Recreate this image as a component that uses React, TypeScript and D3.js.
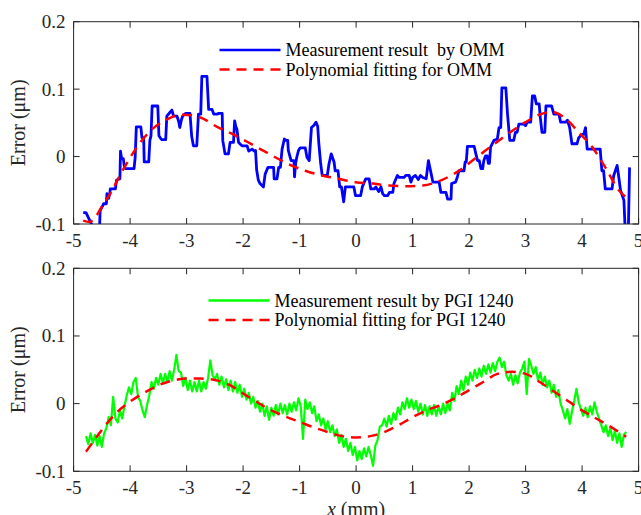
import React from 'react';
import * as d3 from 'd3';

// axes
const xTicks = [-5, -4, -3, -2, -1, 0, 1, 2, 3, 4, 5];
const yTicks = [-0.1, 0, 0.1, 0.2];
const yTickLabels = ['-0.1', '0', '0.1', '0.2'];

const ommLegend = ['Measurement result  by OMM', 'Polynomial fitting for OMM'];
const pgiLegend = ['Measurement result by PGI 1240', 'Polynomial fitting for PGI 1240'];

// OMM measurement, [x (mm), error (nm)]
const ommMeasured: [number, number][] = [
  [-4.83, -83], [-4.78, -83], [-4.73, -92], [-4.66, -104], [-4.6, -108], [-4.54, -104], [-4.53, -80],
  [-4.48, -72], [-4.47, -70], [-4.42, -70], [-4.41, -55], [-4.38, -62], [-4.36, -55], [-4.35, -48],
  [-4.26, -48], [-4.24, -35], [-4.18, -33], [-4.17, 8], [-4.15, -3], [-4.12, -3], [-4.1, -16],
  [-4.08, -18], [-3.93, -18], [-3.91, -1], [-3.89, 44], [-3.81, 44], [-3.79, 28], [-3.76, 28],
  [-3.75, -8], [-3.67, -8], [-3.65, 24], [-3.63, 31], [-3.61, 75], [-3.51, 75], [-3.49, 31],
  [-3.46, 27], [-3.44, 25], [-3.37, 25], [-3.35, 60], [-3.3, 65], [-3.26, 69], [-3.23, 60],
  [-3.17, 60], [-3.14, 52], [-3.12, 43], [-3.09, 55], [-3.07, 60], [-3.02, 64], [-2.94, 64],
  [-2.91, 30], [-2.88, 16], [-2.82, 16], [-2.79, 63], [-2.75, 63], [-2.73, 119], [-2.64, 119],
  [-2.61, 70], [-2.55, 70], [-2.52, 63], [-2.46, 63], [-2.43, 64], [-2.37, 64], [-2.36, 24],
  [-2.32, 4], [-2.26, 4], [-2.23, 21], [-2.17, 21], [-2.15, 53], [-2.13, 45], [-2.11, 41],
  [-2.08, 21], [-2.02, 16], [-1.93, 16], [-1.9, 8], [-1.84, 11], [-1.8, 8], [-1.78, 9],
  [-1.76, -20], [-1.73, -35], [-1.7, -40], [-1.64, -45], [-1.61, -26], [-1.56, -16], [-1.46, -16],
  [-1.45, -33], [-1.4, -33], [-1.37, -16], [-1.34, -16], [-1.31, 11], [-1.27, 26], [-1.24, 24],
  [-1.21, 24], [-1.2, 9], [-1.17, 0], [-1.15, -6], [-1.1, -6], [-1.09, -30], [-1.07, -10],
  [-1.05, -1], [-1.02, 9], [-0.99, 13], [-0.9, 13], [-0.87, -1], [-0.83, -6], [-0.79, 43],
  [-0.75, 46], [-0.71, 51], [-0.68, 45], [-0.66, 20], [-0.63, -8], [-0.6, -28], [-0.51, -28],
  [-0.48, -11], [-0.44, 4], [-0.39, -8], [-0.37, -21], [-0.32, -21], [-0.29, -45], [-0.26, -45],
  [-0.22, -67], [-0.19, -45], [-0.04, -45], [-0.01, -58], [0.08, -58], [0.11, -45], [0.17, -33],
  [0.23, -33], [0.26, -48], [0.32, -48], [0.35, -45], [0.4, -52], [0.44, -45], [0.47, -55],
  [0.5, -58], [0.56, -58], [0.59, -53], [0.65, -53], [0.67, -40], [0.73, -28], [0.76, -31],
  [0.85, -31], [0.88, -28], [0.94, -28], [0.97, -38], [1.0, -31], [1.05, -28], [1.1, -34],
  [1.14, -28], [1.18, -31], [1.24, -33], [1.28, -6], [1.33, -26], [1.36, -38], [1.47, -38],
  [1.5, -53], [1.59, -53], [1.62, -63], [1.68, -63], [1.69, -40], [1.76, -38], [1.79, -31],
  [1.82, -21], [1.91, -21], [1.93, -8], [1.95, -8], [1.97, 15], [2.09, 15], [2.12, 4],
  [2.15, -6], [2.18, -6], [2.21, -18], [2.24, -18], [2.26, -6], [2.29, 1], [2.32, 1],
  [2.34, -10], [2.36, -10], [2.38, 14], [2.44, 24], [2.5, 26], [2.53, 43], [2.56, 43],
  [2.58, 102], [2.65, 102], [2.68, 63], [2.72, 24], [2.79, 24], [2.82, 36], [2.85, 36],
  [2.88, 48], [2.97, 48], [3.0, 46], [3.03, 51], [3.09, 51], [3.12, 90], [3.16, 90],
  [3.19, 78], [3.24, 78], [3.26, 58], [3.29, 36], [3.34, 36], [3.36, 75], [3.46, 75],
  [3.5, 63], [3.59, 63], [3.62, 51], [3.71, 51], [3.74, 54], [3.78, 43], [3.82, 19],
  [3.91, 19], [3.94, 28], [4.0, 33], [4.03, 33], [4.06, 43], [4.09, 11], [4.32, 11],
  [4.35, -21], [4.38, -21], [4.41, -48], [4.53, -48], [4.56, -28], [4.62, -13], [4.65, -31],
  [4.68, -50], [4.74, -65], [4.76, -104], [4.82, -104], [4.84, -16],
];

// polynomial fit for OMM
const ommFit: [number, number][] = [
  [-4.83, -95], [-4.72, -97], [-4.6, -88], [-4.47, -70], [-4.35, -55], [-4.17, -26], [-4.03, -6],
  [-3.88, 14], [-3.7, 33], [-3.53, 46], [-3.35, 55], [-3.11, 62], [-2.88, 61], [-2.7, 56],
  [-2.46, 44], [-2.23, 35], [-1.93, 22], [-1.67, 10], [-1.43, -1], [-1.2, -11], [-0.9, -21],
  [-0.6, -28], [-0.31, -33], [-0.01, -38], [0.29, -40], [0.58, -43], [0.88, -44], [1.18, -43],
  [1.42, -38], [1.66, -29], [1.82, -21], [2.06, -6], [2.29, 9], [2.53, 24], [2.76, 38],
  [3.0, 51], [3.24, 62], [3.47, 66], [3.71, 56], [3.94, 36], [4.18, 14], [4.41, -16],
  [4.65, -50], [4.82, -63],
];

// PGI 1240 measurement: sampled every 0.04 mm from -4.78 mm, error (nm)
const pgiStart = -4.78;
const pgiStep = 0.04;
const pgiMeasured = [
  -48, -60, -44, -58, -46, -62, -48, -64, -44, -36, -20, -32, 10, -22, -28, -10, -22, -4, 12, 24,
  14, 32, 38, 10, 4, -10, -20, -2, 12, 32, 22, 38, 28, 44, 30, 44, 32, 48, 34, 50,
  72, 48, 46, 26, 38, 20, 34, 18, 32, 18, 34, 18, 32, 22, 38, 64, 42, 36, 44, 28,
  40, 24, 36, 20, 34, 18, 32, 16, 28, 10, 22, 6, 16, 0, 10, -6, 4, -12, 0, -18,
  -4, -24, -6, -18, -2, -16, 0, -14, -2, -16, 0, -12, 2, -10, 8, -4, -52, 6, -8, 2,
  -14, -4, -26, -16, -32, -22, -38, -26, -42, -32, -48, -38, -58, -46, -64, -52, -70, -58, -76, -64,
  -84, -70, -82, -66, -78, -64, -76, -92, -62, -54, -34, -32, -22, -34, -18, -30, -14, -24, -6, -16,
  2, -8, 8, -6, 6, -8, 4, -12, 0, -16, -2, -18, -4, -16, -2, -18, -4, -16, 0, -14,
  0, -10, 16, 4, 26, 14, 34, 20, 40, 28, 46, 34, 50, 38, 52, 40, 56, 44, 58, 46,
  60, 48, 62, 68, 54, 62, 42, 34, 44, 28, 42, 30, 46, 52, 62, 14, 66, 56, 44, 54,
  34, 46, 28, 40, 24, 34, 16, 28, 10, 20, 0, -10, -22, -8, -30, -12, 4, 22, 2, -8,
  -18, -6, -20, -4, -16, 2, -12, -22, -32, -42, -32, -48, -36, -54, -40, -58, -44, -64, -46, -42,
];

// polynomial fit for PGI 1240
const pgiFit: [number, number][] = [
  [-4.78, -71], [-4.5, -39], [-4.25, -14], [-4.0, 3], [-3.75, 16], [-3.5, 27], [-3.25, 34],
  [-3.0, 37], [-2.75, 37], [-2.5, 35], [-2.25, 28], [-2.0, 15], [-1.75, 2], [-1.5, -10],
  [-1.25, -19], [-1.0, -27], [-0.75, -35], [-0.5, -42], [-0.25, -48], [0, -50], [0.25, -48],
  [0.5, -42], [0.75, -32], [1.0, -20], [1.25, -10], [1.5, -2], [1.75, 8], [2.0, 20],
  [2.25, 32], [2.5, 44], [2.75, 47], [3.0, 44], [3.25, 32], [3.5, 18], [3.75, 4],
  [4.0, -10], [4.25, -22], [4.5, -34], [4.78, -49],
];

const W = 641;
const H = 515;
const FONT = '"Liberation Serif", "Times New Roman", serif';
const AXIS = '#262626';

const x = d3.scaleLinear().domain([-5, 5]).range([73.6, 638.6]);

type PanelProps = {
  id: string;
  top: number;
  bottom: number;
  measured: [number, number][];
  fit: [number, number][];
  color: string;
  lineWidth: number;
  legend: string[];
  legendX: number;
  legendY: number;
};

function Panel(p: PanelProps) {
  const y = d3.scaleLinear().domain([-0.1, 0.2]).range([p.bottom, p.top]);
  const line = d3
    .line<[number, number]>()
    .x((d) => x(d[0]))
    .y((d) => y(d[1] / 1000));
  const smooth = d3
    .line<[number, number]>()
    .x((d) => x(d[0]))
    .y((d) => y(d[1] / 1000))
    .curve(d3.curveMonotoneX);
  const [x0, x1] = x.range();
  const tl = 6;
  const midY = (p.top + p.bottom) / 2;
  const lx0 = p.legendX;
  const lx1 = p.legendX + 61;
  return (
    <g>
      <defs>
        <clipPath id={p.id}>
          <rect x={x0} y={p.top} width={x1 - x0} height={p.bottom - p.top} />
        </clipPath>
      </defs>
      <g clipPath={`url(#${p.id})`}>
        <path d={line(p.measured) || ''} fill="none" stroke={p.color} strokeWidth={p.lineWidth} strokeLinejoin="round" />
        <path d={smooth(p.fit) || ''} fill="none" stroke="#ff0000" strokeWidth={2.5} strokeDasharray="10 7" />
      </g>
      <rect x={x0} y={p.top} width={x1 - x0} height={p.bottom - p.top} fill="none" stroke={AXIS} strokeWidth={1} />
      {xTicks.map((t) => (
        <g key={'x' + t}>
          <line x1={x(t)} x2={x(t)} y1={p.bottom} y2={p.bottom - tl} stroke={AXIS} />
          <line x1={x(t)} x2={x(t)} y1={p.top} y2={p.top + tl} stroke={AXIS} />
          <text x={x(t)} y={p.bottom + 23} textAnchor="middle" fontSize={19} fill={AXIS} fontFamily={FONT}>
            {t}
          </text>
        </g>
      ))}
      {yTicks.map((t, i) => (
        <g key={'y' + t}>
          <line x1={x0} x2={x0 + tl} y1={y(t)} y2={y(t)} stroke={AXIS} />
          <line x1={x1} x2={x1 - tl} y1={y(t)} y2={y(t)} stroke={AXIS} />
          <text x={x0 - 8} y={y(t) + 6.5} textAnchor="end" fontSize={19} fill={AXIS} fontFamily={FONT}>
            {yTickLabels[i]}
          </text>
        </g>
      ))}
      <text
        transform={`translate(25,${midY}) rotate(-90)`}
        textAnchor="middle"
        fontSize={20}
        fill={AXIS}
        fontFamily={FONT}
      >
        Error (μm)
      </text>
      <line x1={lx0} x2={lx1} y1={p.legendY} y2={p.legendY} stroke={p.color} strokeWidth={2.5} />
      <line x1={lx0} x2={lx1} y1={p.legendY + 19.5} y2={p.legendY + 19.5} stroke="#ff0000" strokeWidth={2.5} strokeDasharray="10 7" />
      {p.legend.map((s, i) => (
        <text
          key={s}
          x={lx1 + 5}
          y={p.legendY + 6 + i * 19.5}
          fontSize={18}
          fill="#000"
          fontFamily={FONT}
          style={{ whiteSpace: 'pre' }}
        >
          {s}
        </text>
      ))}
    </g>
  );
}

export default function App() {
  const pgiPoints: [number, number][] = pgiMeasured.map((v, i) => [pgiStart + i * pgiStep, v]);
  return (
    <svg width={W} height={H} style={{ position: 'absolute', left: 0, top: 0, background: '#fff' }}>
      <rect width={W} height={H} fill="#fff" />
      <Panel
        id="clipTop"
        top={21.7}
        bottom={224}
        measured={ommMeasured}
        fit={ommFit}
        color="#0000ff"
        lineWidth={2.8}
        legend={ommLegend}
        legendX={219.5}
        legendY={50}
      />
      <Panel
        id="clipBottom"
        top={268.3}
        bottom={471.3}
        measured={pgiPoints}
        fit={pgiFit}
        color="#00ff00"
        lineWidth={2.2}
        legend={pgiLegend}
        legendX={208.5}
        legendY={300.5}
      />
      <text x={x(0)} y={516} textAnchor="middle" fontSize={20} fill={AXIS} fontFamily={FONT}>
        <tspan fontStyle="italic">x</tspan> (mm)
      </text>
    </svg>
  );
}
